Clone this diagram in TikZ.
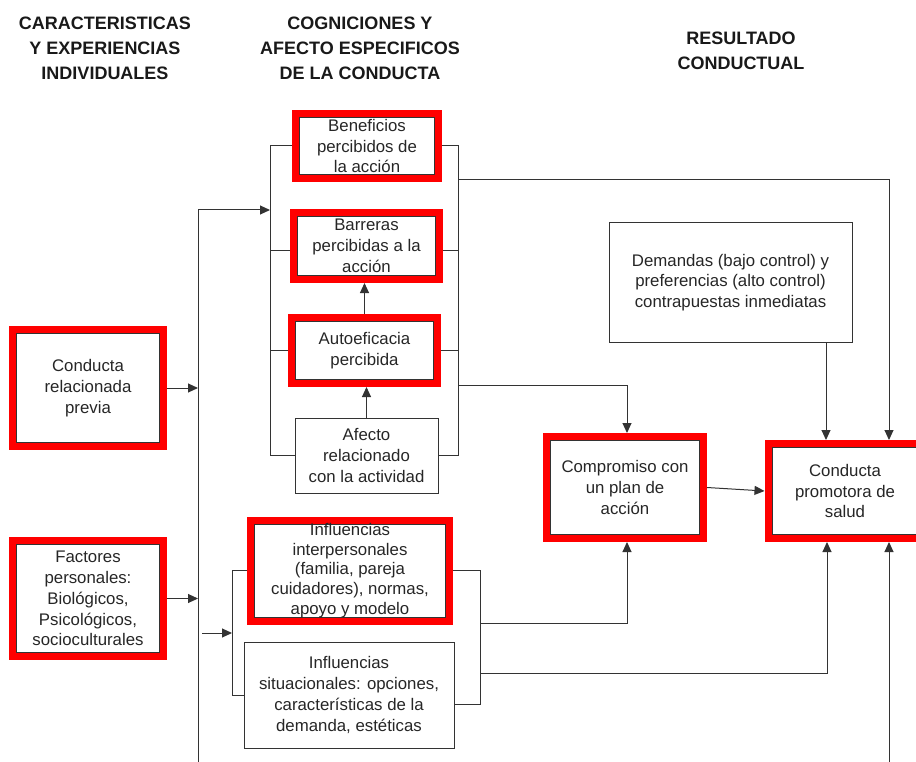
\documentclass[tikz,border=0pt]{standalone}
\usepackage{fontspec}
\setmainfont{Liberation Sans}
\usetikzlibrary{positioning,arrows.meta}

\tikzset{
  box/.style={draw=black!80, line width=1pt, align=center,
              text=black!85, inner sep=0pt},
  redbox/.style={box, draw=red, line width=7pt,
    path picture={\draw[black!80,line width=1pt]
      ([shift={(4pt,4pt)}]path picture bounding box.south west) rectangle
      ([shift={(-4pt,-4pt)}]path picture bounding box.north east);}},
  head/.style={align=center, font=\bfseries\fontsize{18}{25}\selectfont,
               text=black!90},
  link/.style={draw=black!80, line width=1pt}
}

\begin{document}
\begin{tikzpicture}[x=1pt,y=-1pt,
    >={Triangle[length=10pt,width=9pt]},
    font=\fontsize{16.8}{20.8}\selectfont]

  \useasboundingbox (0,0) rectangle (916,762);
  \clip (0,0) rectangle (916,762);

  % column titles
  \node [head] (hInd) at (105,48) {CARACTERISTICAS\\Y EXPERIENCIAS\\INDIVIDUALES};
  \node [head] (hCog) at (360,48) {COGNICIONES Y\\AFECTO ESPECIFICOS\\DE LA CONDUCTA};
  \node [head] (hRes) at (741,51) {RESULTADO\\CONDUCTUAL};

  % individual characteristics
  \node [redbox, minimum width=151pt, minimum height=117pt] (prev) at (88,388)
        {Conducta\\relacionada\\previa};
  \node [redbox, minimum width=151pt, minimum height=116pt] (fac) at (88,598.5)
        {Factores\\personales:\\Biológicos,\\Psicológicos,\\socioculturales};

  % behaviour specific cognitions
  \node [redbox, minimum width=143pt, minimum height=65pt] (ben) at (367,146)
        {Beneficios\\percibidos de\\la acción};
  \node [redbox, minimum width=146pt, minimum height=67pt] (bar) at (366.5,246)
        {Barreras\\percibidas a la\\acción};
  \node [redbox, minimum width=146pt, minimum height=66pt] (auto) at (364.5,350.5)
        {Autoeficacia\\percibida};
  \node [box, minimum width=143pt, minimum height=75pt] (afe) at (366.5,455.5)
        {Afecto\\relacionado\\con la actividad};

  \node [redbox, minimum width=199pt, minimum height=101pt,
         font=\fontsize{16.8}{19.8}\selectfont] (inter) at (350,570.5)
        {Influencias\\interpersonales\\(familia, pareja\\cuidadores), normas,\\apoyo y modelo};
  \node [box, minimum width=210pt, minimum height=106pt] (sit) at (349,695)
        {Influencias\\situacionales: opciones,\\características de la\\demanda, estéticas};

  % behavioural outcome
  \node [box, minimum width=243pt, minimum height=119pt] (dem) at (730.5,282.5)
        {Demandas (bajo control) y\\preferencias (alto control)\\contrapuestas inmediatas};
  \node [redbox, minimum width=157pt, minimum height=102pt] (comp) at (625,487.5)
        {Compromiso con\\un plan de\\acción};
  \node [redbox, minimum width=154pt, minimum height=95pt] (cond) at (845,491)
        {Conducta\\promotora de\\salud};

  % spine on the left
  \coordinate (spTop) at (198,210);
  \coordinate (spBot) at (198,762);
  \coordinate (lbk) at (270,210);
  \coordinate (ibl) at (232,633);
  \draw [link] (spTop) -- (spBot);
  \draw [link,->] (spTop) -- (lbk);
  \draw [link,->] (prev.east) -- (prev.east -| spTop);
  \draw [link,->] (fac.east) -- (fac.east -| spTop);
  \draw [link,->] ([xshift=4pt]ibl -| spTop) -- (ibl);

  % upper bracket
  \coordinate (rbk) at (458,180);
  \coordinate (rbk2) at (458,385);
  \draw [link] (ben.west) -- (ben.west -| lbk) -- (afe.west -| lbk) -- (afe.west);
  \draw [link] ([yshift=-5pt]bar.west) -- ([yshift=-5pt]bar.west -| lbk);
  \draw [link] (auto.west) -- (auto.west -| lbk);
  \draw [link] (ben.east) -- (ben.east -| rbk) -- (afe.east -| rbk) -- (afe.east);
  \draw [link] ([yshift=-5pt]bar.east) -- ([yshift=-5pt]bar.east -| rbk);
  \draw [link] (auto.east) -- (auto.east -| rbk);
  \draw [link,->] (auto.north) -- (auto.north |- bar.south);
  \draw [link,->] (afe.north) -- (afe.north |- auto.south);

  \draw [link,->] (rbk) -| ([xshift=44pt]cond.north);
  \draw [link,->] (rbk2) -| ([xshift=2pt]comp.north);
  \draw [link,->] ([xshift=-19pt]cond.north |- dem.south) -- ([xshift=-19pt]cond.north);
  \draw [link,->] (comp.east) -- (cond.west);

  % lower bracket
  \coordinate (ibr) at (480,623);
  \coordinate (ibr2) at (480,673);
  \draw [link] (inter.west) -- (inter.west -| ibl) -- (sit.west -| ibl) -- (sit.west);
  \draw [link] (inter.east) -- (inter.east -| ibr) -- ([yshift=-9pt]sit.east -| ibr)
        -- ([yshift=-9pt]sit.east);
  \draw [link,->] (ibr) -| ([xshift=2pt]comp.south);
  \draw [link,->] (ibr2) -| ([xshift=-18pt]cond.south);
  \draw [link,->] ([xshift=44pt]cond.south |- spBot) -- ([xshift=44pt]cond.south);

\end{tikzpicture}
\end{document}
